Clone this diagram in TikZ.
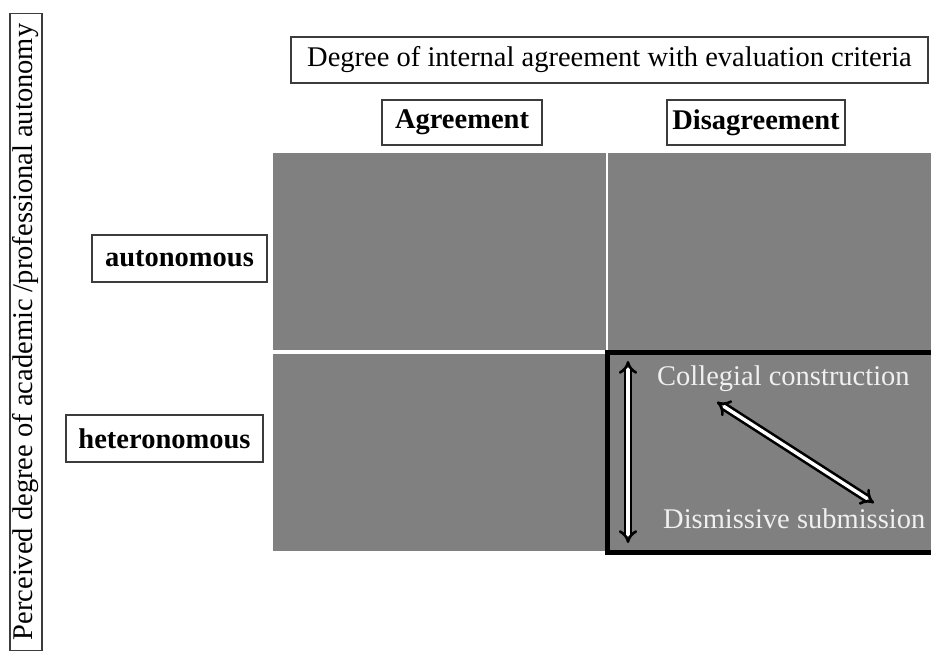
\documentclass[tikz,border=0pt]{standalone}
\usepackage{fontspec}
\setmainfont{Liberation Serif}
\usetikzlibrary{arrows.meta}
\definecolor{cellgray}{RGB}{128,128,128}
\definecolor{framegray}{RGB}{60,60,60}
\definecolor{celltext}{RGB}{240,240,240}
\tikzset{
  labelbox/.style={draw=framegray, line width=1.3pt, fill=white, inner sep=0pt,
    font=\fontsize{28.5}{30}\selectfont},
  boldbox/.style={labelbox, font=\fontsize{28.5}{30}\selectfont\bfseries},
  celllabel/.style={text=celltext, inner sep=0pt, anchor=base west,
    font=\fontsize{28.5}{30}\selectfont},
  hollowarrow/.style={double=white, double distance=3.4pt, line width=2.6pt,
    {Implies[scale=1]}-{Implies[scale=1]}}
}
\begin{document}
\begin{tikzpicture}[x=1pt,y=-1pt]
\useasboundingbox (0,0) rectangle (931,655);
\fill[white] (0,0) rectangle (931,655);

% the four cells of the matrix
\fill[cellgray] (273,153) rectangle (931,551);
\draw[white, line width=1.2pt] (607,153) -- (607,351);
\draw[white, line width=3.5pt] (273,352) -- (605,352);
\draw[black, line width=5pt] (607.5,352.5) rectangle (936,552.5);

% axis titles and category labels
\node[labelbox, minimum width=637pt, minimum height=46pt] (header) at (609.5,60)
  {Degree of internal agreement with evaluation criteria};
\node[boldbox, minimum width=160pt, minimum height=45pt] (agree) at (462,122.5)
  {Agreement};
\node[boldbox, minimum width=178pt, minimum height=45pt] (disagree) at (756,122.5)
  {Disagreement};
\node[boldbox, minimum width=175pt, minimum height=47pt] (auto) at (179.5,258.5)
  {autonomous};
\node[boldbox, minimum width=197pt, minimum height=47pt] (hetero) at (164.5,438.5)
  {heteronomous};
\node[labelbox, rotate=90, minimum width=637pt, minimum height=32pt] (yaxis) at (26,332)
  {Perceived degree of academic /professional autonomy};

% lower right cell
\node[celllabel] (collegial) at (657,385) {Collegial construction};
\node[celllabel] (dismissive) at (663,528) {Dismissive submission};

\coordinate (vtop) at (628,361);
\coordinate (vbot) at (628,543);
\coordinate (dtop) at (717,402);
\coordinate (dbot) at (874,503);
\draw[hollowarrow] (vtop) -- (vbot);
\draw[hollowarrow] (dtop) -- (dbot);
\end{tikzpicture}
\end{document}
